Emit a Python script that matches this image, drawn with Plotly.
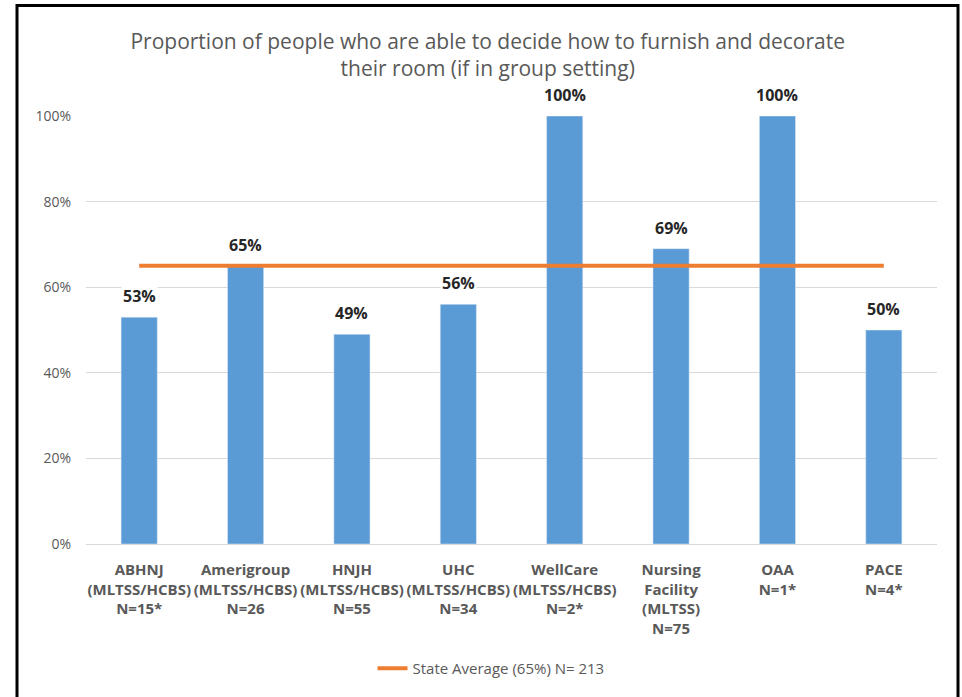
import plotly.graph_objects as go

categories = [
    "ABHNJ<br>(MLTSS/HCBS)<br>N=15*",
    "Amerigroup<br>(MLTSS/HCBS)<br>N=26",
    "HNJH<br>(MLTSS/HCBS)<br>N=55",
    "UHC<br>(MLTSS/HCBS)<br>N=34",
    "WellCare<br>(MLTSS/HCBS)<br>N=2*",
    "Nursing<br>Facility<br>(MLTSS)<br>N=75",
    "OAA<br>N=1*",
    "PACE<br>N=4*",
]
values = [0.53, 0.65, 0.49, 0.56, 1.00, 0.69, 1.00, 0.50]
state_average = 0.65
state_label = "State Average (65%) N= 213"
title_text = "Proportion of people who are able to decide how to furnish and decorate<br>their room (if in group setting)"

FONT = "Open Sans"

fig = go.Figure()
fig.add_trace(go.Bar(
    x=categories, y=values, marker_color="#5B9BD5", showlegend=False,
    hoverinfo="skip",
))
fig.add_trace(go.Scatter(
    x=[categories[0], categories[-1]], y=[state_average, state_average],
    mode="lines", line=dict(color="#ED7D31", width=4), name=state_label,
))

for c, v in zip(categories, values):
    fig.add_annotation(
        x=c, y=v, text="<b>%d%%</b>" % round(v * 100), showarrow=False,
        yanchor="middle", yshift=21, bgcolor="white",
        font=dict(family=FONT, size=16, color="#262626"),
    )

ml, mr, mt, mb = 86, 25, 116, 151
W, H = 962, 697
pw, ph = W - ml - mr, H - mt - mb

def px_x(p):
    return (p - ml) / pw

def px_y(p):
    return (H - mb - p) / ph

fig.add_shape(type="rect", xref="paper", yref="paper",
              x0=px_x(17), x1=px_x(958), y0=px_y(705), y1=px_y(5),
              line=dict(color="black", width=3), fillcolor="rgba(0,0,0,0)")

fig.update_layout(
    width=W, height=H,
    margin=dict(l=ml, r=mr, t=mt, b=mb),
    paper_bgcolor="white", plot_bgcolor="white",
    bargap=0.66,
    title=dict(text=title_text, x=0.507, xanchor="center", y=1 - 49 / H, yanchor="middle",
               font=dict(family=FONT, size=21, color="#595959")),
    font=dict(family=FONT, color="#595959"),
    legend=dict(orientation="h", x=px_x(491), xanchor="center", y=px_y(671), yanchor="middle",
                font=dict(family=FONT, size=15, color="#595959"), bgcolor="rgba(0,0,0,0)"),
    xaxis=dict(tickfont=dict(family=FONT, size=15, color="#595959"), showgrid=False,
               showline=False, ticks="", tickprefix="<b>", ticksuffix="</b>",
               ticklabelstandoff=15),
    yaxis=dict(range=[0, 1], dtick=0.2, tickformat=".0%", gridcolor="#D9D9D9", gridwidth=1,
               zeroline=True, zerolinecolor="#D9D9D9", zerolinewidth=1,
               tickfont=dict(family=FONT, size=14, color="#595959"), ticks="",
               ticklabelstandoff=14),
)

fig.write_html("out.html", config={"displayModeBar": False},
               post_script="document.body.style.margin='0';")
